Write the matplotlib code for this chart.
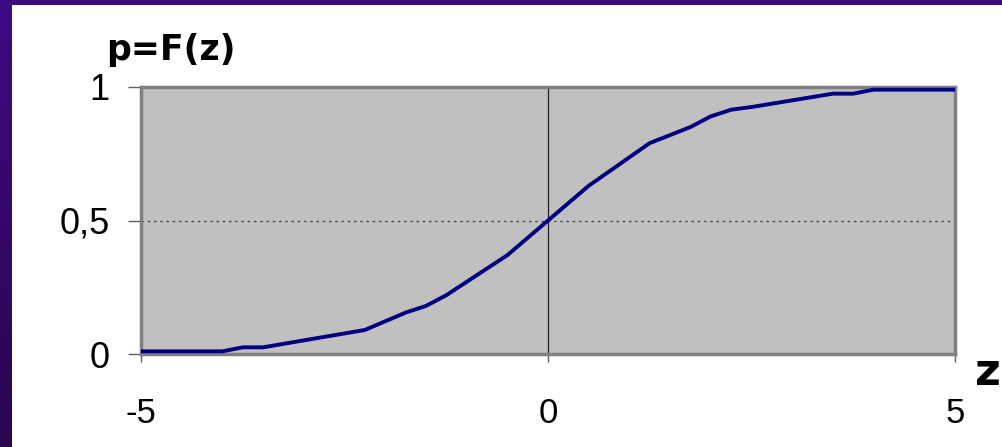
import numpy as np
import matplotlib.pyplot as plt
from matplotlib.patches import Rectangle
from matplotlib.colors import LinearSegmentedColormap

# values
z = [-5.0, -4.0, -3.75, -3.5, -2.25, -1.75, -1.5, -1.25, -0.5, 0.0, 0.5,
     1.25, 1.5, 1.75, 2.0, 2.25, 2.5, 3.0, 3.5, 3.75, 4.0, 5.0]
p = [0.01, 0.01, 0.025, 0.025, 0.09, 0.155, 0.18, 0.22, 0.37, 0.5, 0.63,
     0.79, 0.82, 0.85, 0.89, 0.915, 0.925, 0.95, 0.975, 0.975, 0.99, 0.99]
xticks = [-5, 0, 5]
xlabels = ['-5', '0', '5']
yticks = [0, 0.5, 1]
ylabels = ['0', '0,5', '1']

plt.rcParams['font.family'] = ['Liberation Sans', 'DejaVu Sans']
plt.rcParams['axes.unicode_minus'] = False

fig = plt.figure(figsize=(10.02, 4.47), dpi=100)
fig.patch.set_facecolor('white')

# purple frame on top and left
fig.patches.append(Rectangle((0, 1 - 5/447), 1, 5/447, transform=fig.transFigure,
                             facecolor='#3c0a80', edgecolor='none', zorder=0))
lax = fig.add_axes([0, 0, 12/1002, 1])
grad = np.linspace(0, 1, 100).reshape(-1, 1)
cm = LinearSegmentedColormap.from_list('pp', ['#3e0a82', '#280650'])
lax.imshow(grad, aspect='auto', cmap=cm, extent=[0, 1, 0, 1], origin='upper')
lax.axis('off')

ax = fig.add_axes([141/1002, 1 - 354/447, (955-141)/1002, (354-87)/447])
ax.set_facecolor('#c0c0c0')
ax.plot(z, p, color='#000080', lw=2.8, zorder=3)
ax.axhline(0.5, color='#404040', lw=0.9, ls=(0, (2, 3)), zorder=1)
ax.axvline(0, color='#202020', lw=0.9, zorder=2)

ax.set_xlim(-5, 5)
ax.set_ylim(0, 1)
ax.set_xticks(xticks)
ax.set_xticklabels(xlabels)
ax.set_yticks(yticks)
ax.set_yticklabels(ylabels)
for s in ax.spines.values():
    s.set_color('#808080')
    s.set_linewidth(2.5)
ax.tick_params(axis='y', direction='out', length=9.5, width=1, color='#606060',
               labelsize=26, pad=13)
ax.tick_params(axis='x', direction='out', length=6, width=1, color='#606060',
               labelsize=25, pad=25)

fig.text(106/1002, 1 - 60/447, 'p=F(z)', fontsize=25, fontweight='bold',
         family='DejaVu Sans', ha='left', va='baseline')
fig.text(975/1002, 1 - 385/447, 'z', fontsize=32, fontweight='bold',
         family='DejaVu Sans', ha='left', va='baseline')

fig.savefig('out.png', dpi=100)
